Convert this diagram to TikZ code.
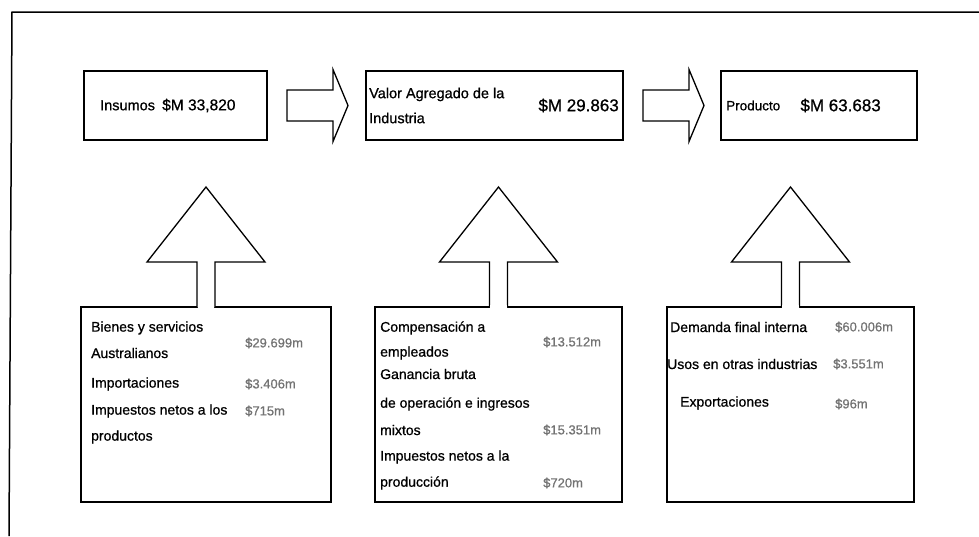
\documentclass[tikz,border=0pt]{standalone}
\usepackage{fontspec}
\setmainfont{Liberation Sans}[FakeBold=0.8]
\usepackage{tikz}
\usetikzlibrary{positioning}
\tikzstyle{marco} = [line width=1.5pt]
\tikzstyle{caja} = [draw, line width=1.6pt, rectangle, inner sep=0pt, outer sep=0pt, anchor=north west]
\tikzstyle{flecha} = [line width=1.3pt, line join=miter, fill=white]
\tikzstyle{titulo} = [inner sep=0pt, anchor=west, align=left, font=\fontsize{14.5}{25}\selectfont]
\tikzstyle{cifra} = [inner sep=0pt, anchor=east, font=\fontsize{17}{20}\selectfont]
\tikzstyle{linea} = [inner sep=0pt, anchor=west, font=\fontsize{14}{16}\selectfont]
\tikzstyle{monto} = [inner sep=0pt, anchor=west, text=black!55, font=\fontsize{13}{15}\selectfont]
% flecha gruesa hacia arriba que sale de una caja
\newcommand{\flechaarriba}[1]{%
  \draw[flecha] ([xshift=-9pt]#1.north) -- ([xshift=-9pt,yshift=45pt]#1.north)
    -- ([xshift=-59pt,yshift=45pt]#1.north) -- ([yshift=120pt]#1.north)
    -- ([xshift=59pt,yshift=45pt]#1.north) -- ([xshift=9pt,yshift=45pt]#1.north)
    -- ([xshift=9pt]#1.north);
  \fill[white] ([xshift=-8.3pt,yshift=-1pt]#1.north) rectangle ([xshift=8.3pt,yshift=2pt]#1.north);}
% flecha gruesa hacia la derecha entre dos cajas
\newcommand{\flechaderecha}[1]{%
  \draw[flecha] ([xshift=20pt,yshift=15.5pt]#1.east) -- ++(46pt,0pt) -- ++(0pt,20.5pt)
    -- ++(15pt,-36pt) -- ++(-15pt,-36pt) -- ++(0pt,20.5pt) -- ++(-46pt,0pt) -- cycle;}

\begin{document}
\begin{tikzpicture}[x=1pt, y=-1pt]
    \useasboundingbox (0,0) rectangle (979,536);
    \draw[marco] (9,536) -- (12,12) -- (979,12);

    % cajas de arriba
    \node[caja, minimum width=183pt, minimum height=69pt] (insumos) at (84,71) {};
    \node[caja, minimum width=257pt, minimum height=69pt] (valor) at (366,71) {};
    \node[caja, minimum width=196pt, minimum height=69pt] (producto) at (721,71) {};
    \node[titulo, right=16pt of insumos.west] (tinsumos) {Insumos\enspace{\fontsize{15.5}{18}\selectfont\$M 33,820}};
    \node[titulo, right=3pt of valor.west] (tvalor) {Valor Agregado de la\\Industria};
    \node[cifra, left=4pt of valor.east] (cvalor) {\$M 29.863};
    \node[titulo, right=5pt of producto.west, font=\fontsize{13.5}{16}\selectfont] (tproducto) {Producto};
    \node[cifra, left=36pt of producto.east] (cproducto) {\$M 63.683};

    \flechaderecha{insumos}
    \flechaderecha{valor}

    % cajas de abajo
    \node[caja, minimum width=250pt, minimum height=195pt] (bienes) at (81,307) {};
    \node[caja, minimum width=247pt, minimum height=195pt] (compensacion) at (375,307) {};
    \node[caja, minimum width=247pt, minimum height=195pt] (demanda) at (667,307) {};

    \flechaarriba{bienes}
    \flechaarriba{compensacion}
    \flechaarriba{demanda}

    \node[linea] (b1) at (91,328) {Bienes y servicios};
    \node[linea] (b2) at (91,353) {Australianos};
    \node[linea] (b3) at (91,384) {Importaciones};
    \node[linea] (b4) at (91,411) {Impuestos netos a los};
    \node[linea] (b5) at (91,437) {productos};
    \node[monto] (mb1) at (245,343) {\$29.699m};
    \node[monto] (mb2) at (245,384) {\$3.406m};
    \node[monto] (mb3) at (245,411) {\$715m};

    \node[linea] (c1) at (380,328) {Compensación a};
    \node[linea] (c2) at (380,353) {empleados};
    \node[linea] (c3) at (380,374) {Ganancia bruta};
    \node[linea] (c4) at (380,404) {de operación e ingresos};
    \node[linea] (c5) at (380,430) {mixtos};
    \node[linea] (c6) at (380,457) {Impuestos netos a la};
    \node[linea] (c7) at (380,483) {producción};
    \node[monto] (mc1) at (543,342) {\$13.512m};
    \node[monto] (mc2) at (543,430) {\$15.351m};
    \node[monto] (mc3) at (543,483) {\$720m};

    \node[linea] (d1) at (670,327) {Demanda final interna};
    \node[linea] (d2) at (667,364) {Usos en otras industrias};
    \node[linea] (d3) at (680,403) {Exportaciones};
    \node[monto] (md1) at (835,327) {\$60.006m};
    \node[monto] (md2) at (833,364) {\$3.551m};
    \node[monto] (md3) at (835,404) {\$96m};
\end{tikzpicture}
\end{document}
